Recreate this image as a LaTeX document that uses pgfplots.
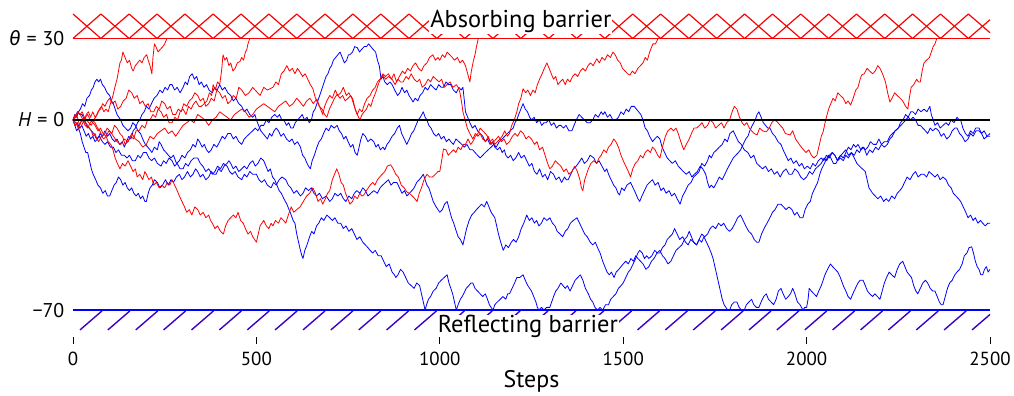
\documentclass[border=0pt]{standalone}
\usepackage{pgfplots}
\pgfplotsset{compat=1.18}
\usepackage{fontspec}
\setmainfont{PT Sans}
\newfontfamily\grfont{Fira Sans}
\definecolor{hatchblue}{RGB}{60,0,200}
\newcommand{\eqs}{\hspace{0.3em}=\hspace{0.3em}}
\begin{document}
\begin{tikzpicture}
\begin{axis}[
  scale only axis, width=917bp, height=323bp,
  xmin=0, xmax=2500, ymin=-79.9, ymax=39,
  clip=false, axis on top,
  axis x line*=bottom, axis y line*=left,
  axis line style={draw=none},
  xtick={0,500,1000,1500,2000,2500},
  ytick={-70,0,30},
  yticklabels={{−70},{\textit{H}\eqs 0},{{\grfont\itshape θ}\eqs 30}},
  x tick style={black, line width=0.9pt},
  y tick style={draw=none},
  tick align=outside,
  major tick length=6.5bp,
  /pgf/number format/1000 sep={},
  /pgf/number format/assume math mode=true,
  ticklabel style={font=\fontsize{19}{22}\selectfont},
  yticklabel style={anchor=east, inner sep=0pt, xshift=-2bp, font=\fontsize{20}{22}\selectfont},
  xticklabel style={inner sep=0pt, yshift=-8bp},
  xlabel={Steps},
  xlabel style={font=\fontsize{24}{26}\selectfont, inner sep=0pt, yshift=-5bp},
  no markers,
  every axis plot/.append style={line join=round},
]
% absorbing barrier hatch
\addplot[red, line width=1.2pt] coordinates {(0,30)(76,39)(153,30)(229,39)(305,30)(382,39)(458,30)(534,39)(610,30)(687,39)(763,30)(839,39)(916,30)(992,39)(1068,30)(1145,39)(1221,30)(1297,39)(1373,30)(1450,39)(1526,30)(1602,39)(1679,30)(1755,39)(1831,30)(1907,39)(1984,30)(2060,39)(2136,30)(2213,39)(2289,30)(2365,39)(2441,30)(2500,36.9)};
\addplot[red, line width=1.2pt] coordinates {(0,39)(76,30)(153,39)(229,30)(305,39)(382,30)(458,39)(534,30)(610,39)(687,30)(763,39)(839,30)(916,39)(992,30)(1068,39)(1145,30)(1221,39)(1297,30)(1373,39)(1450,30)(1526,39)(1602,30)(1679,39)(1755,30)(1831,39)(1907,30)(1984,39)(2060,30)(2136,39)(2213,30)(2289,39)(2365,30)(2441,39)(2500,32.1)};
% reflecting barrier hatch
\addplot[hatchblue, line width=1.4pt, unbounded coords=jump] coordinates {
(19,-77.3)(79,-70.3)(nan,nan)(95,-77.3)(155,-70.3)(nan,nan)(171,-77.3)(231,-70.3)(nan,nan)(247,-77.3)(307,-70.3)(nan,nan)
(323,-77.3)(383,-70.3)(nan,nan)(399,-77.3)(459,-70.3)(nan,nan)(475,-77.3)(535,-70.3)(nan,nan)(551,-77.3)(611,-70.3)(nan,nan)
(627,-77.3)(687,-70.3)(nan,nan)(703,-77.3)(763,-70.3)(nan,nan)(779,-77.3)(839,-70.3)(nan,nan)(855,-77.3)(915,-70.3)(nan,nan)
(931,-77.3)(991,-70.3)(nan,nan)(1007,-77.3)(1067,-70.3)(nan,nan)(1083,-77.3)(1143,-70.3)(nan,nan)(1159,-77.3)(1219,-70.3)(nan,nan)
(1235,-77.3)(1295,-70.3)(nan,nan)(1311,-77.3)(1371,-70.3)(nan,nan)(1387,-77.3)(1447,-70.3)(nan,nan)(1463,-77.3)(1523,-70.3)(nan,nan)
(1539,-77.3)(1599,-70.3)(nan,nan)(1615,-77.3)(1675,-70.3)(nan,nan)(1691,-77.3)(1751,-70.3)(nan,nan)(1767,-77.3)(1827,-70.3)(nan,nan)
(1843,-77.3)(1903,-70.3)(nan,nan)(1919,-77.3)(1979,-70.3)(nan,nan)(1995,-77.3)(2055,-70.3)(nan,nan)(2071,-77.3)(2131,-70.3)(nan,nan)
(2147,-77.3)(2207,-70.3)(nan,nan)(2223,-77.3)(2283,-70.3)(nan,nan)(2299,-77.3)(2359,-70.3)(nan,nan)(2375,-77.3)(2435,-70.3)(nan,nan)
(2451,-77.3)(2500,-71.6)};
% barrier lines
\addplot[red, line width=1.3pt] coordinates {(0,30)(2500,30)};
\addplot[blue, line width=1.8pt] coordinates {(0,-70)(2500,-70)};
% ---- blue walks ----
% B1
\addplot[blue, line width=0.8pt] coordinates {
(0,0)(5,2)(10,1)(15,3)(20,4)(26,6)(32,5)(38,8)(45,9)(50,11)(55,12)(60,14)(65,15)(70,14)(75,15)(80,13)(86,12)(93,10)(100,9)(105,7)(110,6)(115,4)(120,2)(125,1)(130,0)(136,-2)(143,-3)(150,-4)(157,-3)(163,-1)(170,-2)(177,-4)(184,-5)(190,-7)(197,-9)(204,-10)(210,-11)(215,-12)(222,-10)(230,-11)(235,-8)(240,-9)(247,-11)(254,-12)(260,-13)(267,-14)(274,-13)(282,-16)(290,-15)(297,-13)(305,-14)(312,-12)(320,-11)(327,-9)(334,-10)(340,-7)(345,-8)(352,-10)(358,-9)(364,-11)(370,-12)(377,-11)(384,-9)(392,-10)(400,-8)(407,-6)(414,-7)(422,-5)(430,-5)(437,-7)(444,-6)(452,-8)(460,-9)(467,-7)(474,-6)(482,-5)(490,-4)(497,-3)(504,-4)(512,-2)(520,-2)(527,0)(534,-1)(542,1)(550,2)(557,1)(563,2)(569,0)(575,0)(582,-2)(588,-1)(594,-3)(600,-3)(606,-1)(612,0)(619,1)(625,2)(631,0)(638,1)(644,-1)(650,0)(655,3)(660,4)(665,6)(670,8)(675,10)(680,12)(685,14)(690,16)(695,17)(700,19)(705,20)(710,22)(716,23)(722,24)(728,25)(734,23)(740,21)(746,22)(751,24)(755,24)(762,25)(768,27)(775,26.6)(781,25)(787,26)(794,27)(800,27)(806,28)(812,27)(818,26)(825,25)(830,22)(835,20)(840,15)(845,16)(850,14)(857,13)(864,14)(870,13)(877,11)(885,9)(891,10)(897,12)(904,10)(910,11)(916,9)(921,8)(927,6.6)(933,8)(940,7)(946,9)(953,10)(960,12)(967,11)(975,13)(982,12)(990,11)(997,13)(1004,12)(1010,12)(1017,14)(1024,13)(1030,13)(1037,11)(1045,10)(1052,12)(1058,11)(1063,12)(1067,7)(1070,3)(1076,1)(1082,-1)(1089,-3)(1096,-2)(1103,-4)(1110,-5)(1117,-6)(1124,-8)(1130,-7)(1137,-9)(1144,-8)(1150,-10)(1157,-11)(1164,-10)(1170,-12)(1176,-11)(1180,-13)(1186,-14)(1193,-13)(1200,-15)(1207,-14)(1215,-12)(1222,-14)(1230,-13)(1237,-15)(1244,-17)(1251,-16)(1258,-19)(1265,-20)(1272,-18)(1280,-21)(1287,-20)(1294,-22)(1302,-19)(1310,-20)(1317,-22)(1325,-21)(1332,-23)(1340,-21)(1345,-22)(1350,-22)(1357,-20)(1364,-18)(1372,-17)(1380,-15.5)(1387,-14)(1394,-16)(1402,-15)(1410,-13)(1420,-14)(1427,-16)(1434,-15)(1442,-17)(1450,-19)(1455,-18)(1460,-20)(1467,-22)(1474,-24)(1480,-25)(1486,-27)(1490,-27.6)(1496,-25)(1503,-26)(1510,-24)(1520,-23)(1527,-25)(1534,-27)(1540,-29)(1545,-30)(1551,-28)(1558,-26)(1565,-24)(1572,-23)(1580,-22)(1587,-24)(1595,-23)(1603,-26)(1610,-25)(1617,-27)(1625,-26)(1632,-28)(1640,-27)(1647,-29)(1655,-31)(1662,-28)(1670,-26)(1677,-24)(1685,-23)(1692,-21)(1700,-20)(1707,-19)(1714,-16)(1722,-17)(1730,-15)(1735,-13)(1740,-14)(1747,-12)(1755,-11)(1762,-10)(1770,-9)(1777,-7)(1784,-8)(1791,-5)(1800,-4)(1807,-6)(1814,-8)(1822,-9)(1830,-11)(1840,-12)(1848,-14)(1856,-13)(1864,-16)(1872,-17)(1880,-18)(1888,-17)(1896,-19)(1904,-18)(1912,-20)(1920,-19)(1928,-21)(1936,-19)(1944,-18)(1952,-20)(1960,-20)(1968,-18)(1976,-19)(1984,-21)(1992,-22)(2000,-21)(2008,-19)(2016,-20)(2024,-18)(2032,-17)(2040,-16)(2048,-14)(2055,-15)(2062,-13)(2070,-12)(2077,-13)(2085,-15)(2092,-13)(2100,-14)(2107,-12)(2114,-10)(2121,-11)(2128,-9)(2134,-10)(2140,-9)(2148,-11)(2156,-10)(2164,-13)(2172,-11)(2180,-12)(2188,-10)(2196,-11)(2204,-9)(2212,-10)(2220,-9)(2227,-7)(2234,-6)(2241,-4)(2250,-3)(2256,-1)(2263,0)(2270,2)(2277,1)(2284,3)(2290,3)(2297,2)(2304,4)(2312,3)(2320,4)(2328,3)(2336,5)(2340,2)(2345,0)(2350,-2)(2357,-1)(2364,-3)(2372,-2)(2380,-1)(2387,-2)(2394,0)(2402,-1)(2410,1)(2416,0)(2420,0)(2426,-3)(2433,-5)(2440,-6)(2447,-4)(2454,-5)(2461,-3)(2470,-3)(2477,-5)(2484,-4)(2492,-6)(2500,-5)};
% Bz
\addplot[blue, line width=0.8pt] coordinates {
(0,0)(6,-2)(12,-1)(18,-3)(24,-2)(30,-4)(36,-6)(42,-5)(48,-7)(54,-6)(60,-8)(67,-7)(74,-5)(80,-6)(87,-4)(94,-6)(100,-5)(107,-7)(114,-8)(120,-7)(127,-9)(134,-8)(140,-10)(146,-8)(152,-6)(158,-7)(164,-4)(170,-3)(176,-1)(182,0)(188,2)(194,3)(200,5)(207,4)(214,6)(221,8)(229,9)(237,11)(244,10)(251,12)(258,11)(264,13)(270,13)(277,11)(284,12)(292,10)(300,12)(306,14)(312,13)(318,16)(325,17)(331,15)(337,16)(344,13)(350,14)(357,12)(364,13)(371,11)(380,10)(386,12)(393,11)(400,13)(407,11)(414,12)(422,10)(430,9)(437,7)(444,8)(452,6)(460,5)(467,3)(474,4)(482,2)(490,1)(496,2)(500,0)(506,-2)(512,-4)(518,-5)(524,-6)(530,-7)(536,-5)(542,-6)(548,-4)(554,-3)(560,-4)(567,-6)(574,-5)(582,-7)(590,-8)(597,-7)(604,-9)(612,-8)(620,-10)(626,-13)(632,-14)(638,-16)(642,-17)(647,-18)(652,-15)(658,-13)(665,-10)(671,-8)(677,-7)(683,-5)(690,-3)(697,-4)(704,-2)(712,-3)(720,-2)(726,-4)(732,-5)(738,-7)(744,-6)(750,-8)(757,-10)(763,-9)(769,-12)(775,-13)(780,-10)(785,-7)(790,-5)(797,-6)(804,-8)(812,-7)(820,-8)(826,-10)(832,-9)(838,-11)(845,-10)(850,-11)(856,-9)(862,-8)(870,-6)(877,-5)(884,-3)(890,-2)(896,-5)(903,-7)(910,-9)(917,-7)(923,-5)(929,-4)(935,-2)(941,0)(947,1)(951,2)(955,3)(960,1)(965,0)(970,-2)(976,-3)(983,-5)(990,-6)(997,-5)(1004,-7)(1011,-6)(1018,-8)(1025,-7)(1030,-8)(1037,-9)(1044,-7)(1052,-8)(1060,-9)(1067,-10)(1074,-9)(1082,-11)(1090,-11)(1096,-12)(1103,-13)(1110,-14)(1117,-13)(1124,-12)(1132,-11)(1140,-10)(1147,-9)(1154,-10)(1162,-8)(1170,-7)(1177,-6)(1184,-5)(1192,-4)(1200,-3)(1205,-1)(1210,0)(1215,2)(1221,4)(1227,6)(1233,4)(1239,3)(1245,1)(1250,0)(1257,1)(1264,-1)(1271,0)(1278,-2)(1284,-1)(1290,-1)(1297,0)(1304,-2)(1311,-1)(1318,-3)(1325,-2)(1330,-2)(1337,-3)(1344,-2)(1352,-4)(1360,-4)(1366,-2)(1372,0)(1380,2)(1387,1)(1394,0)(1402,-1)(1410,-1)(1417,0)(1424,2)(1432,1)(1440,3)(1445,2)(1450,3)(1457,1)(1464,2)(1472,0)(1480,0)(1487,1)(1494,3)(1501,2)(1508,4)(1515,3)(1522,5)(1530,5)(1536,4)(1542,3)(1548,2)(1554,0)(1560,-3)(1566,-4)(1572,-6)(1580,-8)(1586,-7)(1593,-6)(1600,-7)(1606,-10)(1613,-12)(1620,-14)(1627,-15)(1634,-16)(1642,-15)(1650,-17)(1657,-18)(1664,-19)(1672,-20)(1680,-19)(1687,-21)(1694,-20)(1702,-19)(1710,-17)(1717,-18)(1725,-20)(1730,-23)(1735,-25)(1740,-24)(1747,-25)(1755,-23)(1762,-21)(1770,-22)(1777,-20)(1784,-18)(1792,-16)(1800,-14)(1807,-13)(1814,-12)(1820,-11)(1827,-9)(1834,-7)(1840,-6)(1845,-4)(1852,-2)(1860,0)(1865,2)(1870,3)(1876,1)(1882,-1)(1888,-2)(1894,-3)(1900,-3)(1907,-5)(1914,-6)(1922,-8)(1930,-9)(1936,-11)(1943,-13)(1950,-15)(1957,-14)(1964,-16)(1972,-15)(1980,-17)(1987,-16)(1994,-18)(2002,-17)(2010,-18)(2017,-16)(2024,-17)(2032,-15)(2040,-14)(2047,-15)(2054,-13)(2062,-14)(2070,-12)(2077,-13)(2084,-15)(2092,-14)(2100,-15)(2107,-13)(2114,-14)(2122,-12)(2130,-14)(2137,-16)(2144,-17)(2152,-18)(2160,-19)(2165,-22)(2170,-25)(2175,-26)(2180,-27)(2187,-28)(2194,-29)(2202,-28)(2210,-30)(2217,-29)(2224,-30)(2232,-28)(2240,-29)(2247,-27)(2254,-26)(2260,-25)(2267,-23)(2274,-21)(2282,-22)(2290,-20)(2297,-19)(2304,-21)(2312,-20)(2320,-20)(2327,-21)(2334,-19)(2342,-20)(2350,-21)(2357,-20)(2364,-22)(2372,-21)(2380,-22)(2387,-24)(2394,-25)(2400,-27)(2407,-28)(2414,-29)(2420,-30)(2427,-32)(2434,-34)(2440,-36)(2447,-35)(2454,-37)(2460,-36)(2467,-38)(2474,-37)(2480,-38)(2487,-39)(2494,-38)(2500,-38)};
% Bb1 (reflected, then rising)
\addplot[blue, line width=0.8pt] coordinates {
(0,0)(5,-2)(10,-4)(15,-3)(20,-5)(25,-8)(30,-10)(35,-12)(40,-12)(45,-15)(50,-18)(55,-20)(62,-22)(68,-24)(75,-25)(81,-27)(88,-26)(94,-28)(100,-28)(106,-26)(112,-24)(118,-23)(124,-21)(130,-22)(136,-24)(142,-23)(148,-25)(154,-26)(160,-25)(166,-27)(172,-28)(178,-27)(184,-29)(190,-28)(196,-30)(200,-30)(205,-27)(210,-25)(216,-24)(222,-22)(230,-23)(237,-25)(244,-24)(252,-22)(260,-24)(267,-22)(274,-23)(282,-21)(290,-20)(297,-22)(304,-21)(312,-19)(320,-21)(327,-20)(334,-18)(340,-19)(347,-21)(354,-20)(362,-22)(370,-21)(377,-19)(384,-20)(390,-20)(397,-18)(404,-19)(412,-17)(420,-16)(425,-15)(430,-16)(437,-18)(444,-17)(452,-19)(460,-18)(467,-17)(474,-18)(482,-16)(490,-15)(497,-17)(504,-16)(512,-14)(520,-15)(526,-17)(532,-19)(538,-18)(544,-21)(550,-22)(556,-24)(562,-26)(568,-27)(575,-29)(583,-31)(589,-33)(595,-35)(600,-37)(605,-38)(610,-42)(615,-45)(620,-48)(624,-50)(627,-51)(632,-48)(638,-46)(645,-43)(651,-41)(657,-42)(664,-39)(670,-38)(677,-36)(684,-37)(692,-35)(700,-36)(707,-37)(714,-36)(722,-38)(730,-38)(737,-40)(744,-39)(752,-41)(760,-40)(767,-42)(774,-44)(782,-43)(790,-45)(797,-46)(804,-47)(810,-48)(817,-49)(824,-48)(832,-50)(840,-50)(847,-52)(854,-54)(862,-53)(870,-56)(876,-57)(880,-58)(886,-57)(893,-55)(900,-56)(907,-58)(914,-60)(922,-61)(930,-62)(937,-60)(945,-61)(950,-64)(955,-67)(960,-70)(964,-68)(969,-66)(975,-65)(982,-63)(990,-62)(997,-60)(1004,-59)(1012,-58)(1020,-57)(1025,-60)(1030,-62)(1035,-64)(1040,-67)(1045,-70)(1050,-68)(1056,-66)(1061,-65)(1065,-64)(1072,-62)(1079,-61)(1085,-60)(1090,-60)(1096,-62)(1103,-63)(1110,-64)(1117,-65)(1124,-64)(1130,-66)(1135,-68)(1140,-69)(1145,-70)(1150,-68)(1157,-67)(1165,-66)(1172,-65)(1180,-66)(1185,-64)(1190,-64)(1197,-62)(1204,-60)(1210,-58)(1218,-58)(1227,-57)(1233,-59)(1240,-61)(1245,-62)(1250,-63)(1256,-65)(1262,-67)(1266,-69)(1270,-70)(1277,-69)(1284,-70)(1291,-69)(1300,-69)(1305,-67)(1310,-65)(1316,-63)(1322,-62)(1330,-60)(1336,-61)(1342,-62)(1348,-61)(1355,-63)(1362,-61)(1369,-59)(1376,-58)(1383,-57)(1390,-59)(1397,-62)(1405,-64)(1411,-66)(1417,-67)(1423,-69)(1430,-70)(1437,-69)(1444,-70)(1452,-68)(1460,-68)(1466,-66)(1473,-65)(1480,-64)(1487,-62)(1494,-61)(1500,-60)(1507,-58)(1514,-56)(1520,-55)(1527,-53)(1534,-51)(1540,-49)(1545,-48)(1552,-49)(1558,-51)(1564,-50)(1570,-51)(1578,-50)(1586,-48)(1593,-49)(1600,-49)(1607,-47)(1614,-46)(1620,-44)(1627,-43)(1634,-42)(1640,-40)(1647,-42)(1654,-44)(1662,-43)(1670,-45)(1677,-46)(1684,-44)(1692,-45)(1700,-46)(1707,-44)(1714,-42)(1722,-43)(1730,-42)(1737,-40)(1744,-39)(1752,-40)(1760,-38)(1767,-39)(1774,-38)(1782,-40)(1790,-41)(1797,-40)(1805,-38)(1812,-36)(1820,-35)(1827,-37)(1834,-39)(1842,-41)(1850,-42)(1857,-44)(1864,-45)(1870,-45)(1877,-42)(1884,-40)(1892,-38)(1900,-36)(1907,-34)(1914,-33)(1922,-31)(1930,-31)(1937,-32)(1944,-33)(1952,-32)(1960,-33)(1967,-35)(1974,-34)(1982,-36)(1990,-36)(1996,-33)(2003,-31)(2010,-30)(2016,-27)(2023,-25)(2030,-23)(2036,-20)(2041,-18)(2045,-17)(2052,-15)(2060,-13)(2066,-14)(2073,-16)(2080,-16)(2087,-14)(2094,-13)(2100,-12)(2107,-11)(2114,-13)(2122,-12)(2130,-13)(2137,-11)(2144,-12)(2152,-10)(2160,-11)(2167,-10)(2174,-8)(2182,-9)(2190,-9)(2197,-7)(2204,-9)(2212,-8)(2220,-8)(2227,-6)(2234,-5)(2242,-4)(2250,-3)(2257,-2)(2264,-1)(2270,0)(2277,1)(2284,0)(2290,1)(2297,0)(2304,-2)(2310,-2)(2317,-3)(2324,-4)(2330,-5)(2337,-3)(2344,-4)(2352,-3)(2360,-4)(2367,-6)(2374,-5)(2382,-7)(2390,-6)(2397,-4)(2404,-3)(2410,-3)(2417,-5)(2424,-6)(2432,-8)(2440,-7)(2447,-5)(2454,-6)(2462,-4)(2470,-4)(2477,-5)(2484,-7)(2492,-6)(2500,-6)};
% Bm (middle, then along the bottom)
\addplot[blue, line width=0.8pt] coordinates {
(0,0)(6,1)(12,3)(18,2)(25,2)(31,0)(37,-2)(44,-3)(50,-4)(57,-5)(64,-7)(72,-6)(80,-8)(87,-9)(94,-8)(102,-10)(110,-10)(117,-12)(124,-11)(132,-13)(140,-13)(147,-14)(154,-13)(162,-15)(170,-15)(177,-13)(184,-14)(192,-12)(200,-12)(207,-14)(214,-15)(222,-14)(230,-16)(240,-17)(247,-15)(254,-16)(262,-14)(270,-15)(277,-17)(284,-16)(292,-18)(300,-18)(307,-16)(314,-17)(322,-15)(330,-14)(340,-14)(347,-16)(354,-17)(362,-19)(370,-18)(380,-20)(387,-19)(394,-17)(402,-18)(410,-16)(420,-17)(427,-19)(434,-20)(442,-19)(450,-21)(460,-22)(467,-20)(474,-21)(482,-19)(490,-20)(500,-20)(507,-22)(514,-23)(522,-22)(530,-24)(540,-25)(547,-23)(554,-24)(562,-22)(570,-21)(580,-22)(587,-24)(594,-25)(602,-27)(610,-26)(620,-28)(627,-27)(634,-25)(642,-26)(650,-25)(657,-27)(664,-28)(672,-27)(680,-29)(690,-28)(700,-30)(707,-29)(714,-27)(722,-28)(730,-27)(737,-29)(744,-30)(752,-28)(760,-29)(767,-27)(774,-26)(782,-27)(790,-25)(797,-26)(804,-28)(812,-27)(820,-26)(830,-27)(837,-25)(844,-24)(852,-23)(860,-22)(867,-24)(874,-23)(883,-23)(890,-25)(897,-27)(904,-26)(910,-28)(917,-27)(924,-26)(930,-25)(937,-23)(944,-22)(950,-21)(955,-20)(960,-22)(965,-24)(970,-25)(975,-27)(982,-30)(990,-32)(1000,-34)(1007,-33)(1013,-31)(1020,-30)(1026,-33)(1032,-36)(1038,-38)(1045,-41)(1050,-43)(1056,-44)(1063,-46)(1068,-43)(1073,-40)(1080,-37)(1087,-35)(1094,-34)(1100,-33)(1107,-32)(1114,-31)(1121,-32)(1128,-30)(1134,-32)(1140,-34)(1145,-35)(1150,-36)(1155,-39)(1160,-42)(1166,-45)(1173,-48)(1180,-46)(1187,-47)(1195,-45)(1201,-44)(1208,-45)(1215,-43)(1222,-40)(1229,-38)(1237,-35)(1244,-37)(1251,-36)(1258,-38)(1264,-37)(1270,-39)(1277,-38)(1284,-36)(1292,-37)(1300,-36)(1307,-38)(1314,-39)(1320,-41)(1328,-42)(1335,-43)(1342,-41)(1349,-40)(1356,-38)(1364,-37)(1374,-36)(1381,-38)(1388,-40)(1395,-42)(1402,-43)(1410,-45)(1417,-46)(1424,-45)(1430,-47)(1437,-49)(1444,-52)(1450,-54)(1456,-56)(1462,-57)(1468,-56)(1475,-58)(1481,-56)(1488,-55)(1494,-54)(1500,-53)(1507,-52)(1514,-53)(1521,-51)(1528,-52)(1534,-50)(1540,-51)(1547,-52)(1554,-53)(1562,-55)(1570,-54)(1577,-52)(1584,-51)(1592,-49)(1600,-48)(1607,-50)(1614,-51)(1622,-53)(1630,-52)(1637,-50)(1644,-48)(1652,-47)(1660,-46)(1667,-44)(1674,-43)(1680,-41)(1686,-43)(1692,-45)(1700,-46)(1707,-44)(1714,-45)(1720,-43)(1727,-45)(1734,-47)(1740,-49)(1745,-51)(1750,-54)(1755,-57)(1760,-60)(1765,-63)(1770,-66)(1775,-68)(1780,-69)(1785,-70)(1790,-70)(1796,-68)(1803,-67)(1810,-67)(1816,-69)(1823,-70)(1830,-70)(1836,-68)(1843,-67)(1850,-66)(1856,-68)(1863,-69)(1870,-69)(1876,-67)(1883,-65)(1890,-64)(1896,-66)(1903,-67)(1910,-68)(1917,-66)(1923,-63)(1930,-62)(1936,-64)(1943,-66)(1950,-65)(1956,-64)(1962,-62)(1968,-64)(1975,-67)(1982,-68)(1990,-70)(1995,-69)(2000,-69)(2004,-66)(2007,-62)(2013,-63)(2020,-64)(2027,-65)(2033,-63)(2040,-61)(2045,-59)(2050,-57)(2057,-55)(2065,-53)(2071,-54)(2078,-55)(2085,-56)(2092,-58)(2100,-61)(2107,-63)(2113,-65)(2120,-66)(2126,-64)(2133,-62)(2140,-60)(2146,-59)(2154,-59)(2160,-61)(2166,-63)(2172,-64)(2180,-65)(2186,-64)(2193,-65)(2200,-66)(2206,-63)(2212,-60)(2218,-58)(2225,-56)(2232,-57)(2240,-58)(2247,-55)(2254,-53)(2262,-52)(2268,-54)(2274,-56)(2280,-57)(2286,-58)(2292,-61)(2298,-63)(2303,-64)(2310,-62)(2317,-60)(2324,-59)(2330,-60)(2337,-62)(2344,-63)(2350,-63)(2356,-65)(2362,-67)(2367,-68)(2372,-68)(2378,-65)(2384,-62)(2390,-60)(2397,-59)(2404,-57)(2410,-56)(2417,-55)(2424,-53)(2430,-50)(2437,-49)(2443,-47)(2450,-46.7)(2455,-49)(2460,-52)(2465,-54)(2470,-55)(2475,-57)(2480,-57)(2485,-55)(2490,-54)(2495,-56)(2500,-55)};
% ---- red walks ----
% RA
\addplot[red, line width=0.8pt] coordinates {
(0,0)(6,2)(12,1)(18,-2)(24,0)(30,-1)(36,2)(42,3)(48,1)(54,3)(60,1)(66,2)(72,4)(78,5)(84,3)(90,4)(96,3)(102,6)(109,9)(114,12)(120,15)(124,18)(128,21)(132,22)(136,25)(142,23)(148,21)(154,22)(160,19)(164,18)(170,20)(176,21)(182,22)(188,21)(194,23)(201,24)(205,22)(210,20)(215,17)(218,23)(222,28)(226,27)(232,25)(238,26)(245,27)(250,28)(256,30)};
% RB
\addplot[red, line width=0.8pt] coordinates {
(0,0)(8,-1)(14,-3)(20,-3)(27,-1)(34,1)(40,2)(47,0)(54,-1)(60,-2)(68,-4)(75,-3)(82,-5)(90,-6)(98,-4)(106,-5)(113,-2)(120,-3)(128,-5)(135,-6)(142,-9)(150,-8)(158,-6)(165,-7)(172,-4)(180,-4)(188,-2)(196,-3)(203,0)(210,0)(218,2)(225,1)(232,4)(240,3)(247,1)(255,2)(262,-1)(270,-1)(278,1)(285,0)(292,3)(300,4)(308,2)(315,5)(322,4)(327,5.5)(335,7)(343,5)(350,5)(358,6)(365,7)(372,10)(378,9)(382,13)(388,11)(394,14)(400,13)(405,18)(409,24)(414,22)(419,23)(425,20)(430,21)(436,18)(442,19)(448,21)(455,21.5)(460,23)(465,22)(470,25)(474,26)(477,28)(482,30)};
% RC
\addplot[red, line width=0.8pt] coordinates {
(0,0)(7,1)(13,3)(19,2)(25,3)(31,1)(37,0)(43,-1)(50,-2)(56,0)(62,1)(68,3)(75,4)(81,6)(87,5)(94,7)(100,8)(107,6)(115,7)(122,4)(130,5)(137,7)(145,8)(152,11)(160,10)(167,8)(175,9)(182,6)(190,7)(197,5)(205,6)(212,3)(220,3)(227,5)(235,4)(242,7)(250,6)(257,4)(265,5)(272,2)(280,2)(287,4)(295,3)(302,6)(310,5)(317,7)(325,8)(332,10)(340,9)(347,7)(355,8)(362,5)(370,6)(377,8)(385,7)(392,11)(400,10)(407,8)(415,9)(422,6)(430,7)(437,9)(445,8)(452,12)(460,11)(470,9)(480,10)(490,12)(500,10.5)(510,9)(520,12)(530,11)(545,12)(553,14)(560,13)(568,17)(575,18)(583,20)(590,18)(598,19)(605,17)(612,19)(619,17.6)(626,16)(633,17)(640,15)(647,13)(654,11.5)(661,8)(668,6)(675,4)(681,2)(686,5)(692,7)(700,9)(707,8)(715,11)(722,9)(730,10)(737,12)(745,9)(752,10)(760,8)(767,5)(775,2)(781,4)(788,3)(795,6)(802,8)(810,9)(817,11)(824,12)(830,14)(837,15)(845,17)(852,16)(860,17)(868,15)(875,17)(882,14)(890,16)(898,18)(905,17)(912,19)(920,18)(927,20)(934,21)(942,19)(950,18)(957,20)(965,21)(972,23)(981,24)(988,22)(995,23)(1000,22)(1007,24)(1014,23)(1020,25)(1027,24)(1034,23)(1040,22)(1048,23)(1055,21)(1062,22)(1070,20)(1076,17)(1082,14)(1086,18)(1092,22)(1096,24)(1100,27)(1105,30)};
% RD
\addplot[red, line width=0.8pt] coordinates {
(0,0)(5,-2)(10,-1)(15,-3)(20,-1)(25,0)(30,1)(35,-1)(40,-2)(45,-3)(50,-4)(55,-6)(60,-5)(65,-7)(70,-8)(77,-6)(84,-7)(90,-6)(96,-8)(103,-9)(109,-11)(115,-14)(121,-16)(128,-18)(135,-16)(142,-17)(150,-15)(157,-17)(164,-19)(170,-18)(175,-21)(182,-20)(190,-22)(196,-19)(200,-20)(207,-22)(214,-21)(220,-24)(227,-23)(235,-25)(242,-24)(250,-25)(257,-23)(264,-24)(270,-22)(277,-24)(284,-26)(290,-28)(297,-30)(304,-32)(310,-34)(317,-33)(324,-35)(332,-32)(340,-33)(347,-35)(355,-34)(362,-36)(370,-35)(375,-37)(380,-38)(387,-40)(394,-39)(402,-41)(410,-42)(416,-39)(423,-37)(430,-36)(437,-35)(444,-36)(450,-34)(457,-37)(464,-38)(470,-40)(477,-42)(484,-41)(490,-43)(495,-44)(500,-45)(505,-42)(510,-39)(515,-38)(520,-37)(527,-39)(534,-40)(540,-38)(545,-39)(552,-37)(560,-38)(567,-36)(574,-37)(580,-38)(587,-35)(595,-32)(602,-34)(610,-33)(619,-32)(628,-30)(637,-28)(645,-27)(654,-25)(661,-27)(668,-30)(675,-29)(681,-31)(688,-29)(694,-27)(700,-26)(707,-22)(713,-20)(719,-18)(725,-20)(731,-23)(737,-24)(743,-27)(749,-29)(755,-31)(762,-30)(768,-28)(775,-29)(782,-27)(788,-28)(793,-27.6)(800,-26)(805,-25)(810,-24)(817,-23)(823,-24)(830,-22)(836,-21)(843,-20)(850,-19)(857,-17)(866,-16.5)(873,-18)(880,-20)(887,-21)(895,-24)(903,-25)(910,-26.5)(917,-27)(925,-28)(932,-29)(938,-30)(944,-27)(950,-25)(957,-22)(965,-20)(972,-21)(980,-21)(988,-20)(995,-19)(1000,-19)(1005,-15)(1010,-10.7)(1017,-11)(1023,-13)(1030,-12)(1037,-11)(1044,-12)(1050,-10)(1057,-11)(1064,-9)(1070,-9)(1077,-7)(1084,-9)(1090,-8)(1097,-6)(1104,-5)(1110,-3)(1117,-4)(1124,-5)(1130,-6)(1137,-8)(1144,-7)(1150,-9)(1157,-8)(1164,-7)(1170,-6)(1177,-4)(1184,-6)(1190,-5)(1196,-2)(1203,0)(1210,3)(1215,6)(1221,8)(1227,11.5)(1234,10)(1240,11)(1247,9)(1254,11)(1260,10)(1266,13)(1272,15)(1279,17)(1285,19)(1292,21)(1298,19)(1304,17)(1310,15)(1316,16)(1322,13)(1328,14)(1335,15)(1342,13)(1348,15)(1355,14)(1362,16)(1369,17)(1376,16)(1383,18)(1390,19)(1397,18)(1404,20)(1411,21)(1418,20)(1428,22.5)(1435,21)(1442,23)(1450,22)(1457,24)(1465,23)(1472,25)(1478,24)(1485,22)(1492,21)(1498,19)(1505,18)(1512,17)(1518,16.5)(1525,18)(1532,17)(1540,19)(1547,20)(1554,21)(1560,23)(1566,22)(1572,25)(1578,27)(1581,28)(1588,28)(1595,30)};
% RE
\addplot[red, line width=0.8pt] coordinates {
(0,0)(7,1)(13,3)(20,2)(27,0)(33,-2)(40,-3)(47,-1)(53,0)(60,-1)(67,-3)(73,-4)(80,-6)(87,-5)(93,-3)(100,-4)(110,-6)(120,-8)(130,-9)(140,-7)(150,-8)(160,-5)(170,-7)(180,-8)(190,-10)(200,-9)(210,-6)(220,-7)(230,-5)(240,-4)(250,-3)(260,-5)(270,-4)(280,-6)(290,-4)(300,-2)(310,-1)(320,0)(330,-1)(340,2)(350,1)(360,0)(370,-2)(380,0)(390,1)(400,3)(410,2)(420,1)(430,0)(440,2)(450,3)(460,4)(470,3)(480,1)(490,2)(500,4)(510,5)(520,6)(530,5)(540,4)(550,3)(560,5)(570,6)(580,7)(590,5)(600,6)(610,8)(619,6.6)(628,5)(637,7)(646,8)(655,6)(665,7.7)(672,5)(679,4)(686,2)(692,1)(699,4)(706,6)(713,8)(720,9.4)(728,8)(735,9)(742,7)(750,8)(757,9)(763,7.7)(769,4)(775,2)(782,0)(788,2)(794,3)(800,4)(806,6)(812,5)(818,7.7)(825,10)(832,13)(838,15)(845,16.5)(852,15)(860,16)(870,15)(878,13)(886,15)(893,14)(900,14)(908,16)(915,15)(922,17)(930,15)(938,14)(945,15)(952,12)(960,13)(968,15)(975,14)(982,16)(990,15)(998,14)(1005,15)(1012,12)(1020,13)(1028,14)(1036,12)(1045,13)(1050,12)(1055,10)(1060,6)(1063,3)(1069,0)(1075,-3)(1082,-5)(1090,-7)(1097,-5)(1104,-6)(1110,-5)(1117,-7)(1125,-8)(1132,-6)(1140,-9)(1147,-8)(1154,-7)(1160,-6)(1168,-8)(1175,-7)(1182,-9)(1190,-8)(1198,-6)(1205,-5)(1212,-6)(1220,-4)(1228,-5)(1235,-7)(1242,-6)(1250,-7)(1258,-9)(1265,-8)(1272,-11)(1280,-10)(1287,-13)(1294,-16)(1300,-18)(1307,-17)(1315,-15)(1322,-16)(1330,-17)(1338,-19)(1345,-18)(1352,-20)(1360,-19)(1368,-17)(1375,-19)(1382,-22)(1386,-25)(1390,-26)(1395,-22)(1400,-20)(1405,-18)(1412,-16)(1420,-15)(1428,-16)(1434,-14)(1440,-13)(1447,-11)(1454,-12)(1460,-10)(1467,-9)(1474,-7)(1480,-8)(1487,-10)(1494,-13)(1500,-15)(1507,-17)(1514,-19)(1520,-21)(1526,-18)(1533,-16)(1540,-15)(1547,-13)(1554,-14)(1560,-12)(1567,-11)(1574,-12)(1580,-10)(1587,-11)(1594,-13)(1600,-14)(1607,-10)(1615,-6)(1622,-4)(1630,-3)(1637,-4)(1644,-3)(1650,-5)(1657,-8)(1665,-11)(1672,-9)(1680,-7)(1686,-5)(1693,-3)(1700,-3)(1708,-2)(1715,-1)(1722,-3)(1730,-2)(1737,0)(1745,-1)(1752,-3)(1760,-2)(1768,-1)(1775,-3)(1782,-1)(1790,0)(1797,3)(1803,5)(1810,4)(1817,1)(1824,-1)(1830,-2)(1837,-1)(1844,-3)(1850,-4)(1857,-5)(1865,-5.5)(1872,-3)(1880,-4)(1890,-4.4)(1898,-3)(1905,-1)(1912,0)(1920,-0.7)(1928,-2)(1935,-3)(1942,-5)(1955,-5.5)(1962,-4)(1970,-7)(1980,-9)(1990,-10.7)(1998,-12)(2006,-11)(2013,-13)(2020,-14)(2028,-13)(2035,-9)(2040,-6)(2045,-4.4)(2052,0)(2060,4)(2066,6)(2072,8)(2078,7)(2085,10)(2092,9)(2100,8)(2107,6)(2113,7)(2120,5.5)(2127,8)(2134,11)(2140,12)(2146,15)(2150,16.5)(2157,17)(2165,19)(2172,18)(2180,17)(2187,18)(2194,20)(2200,19)(2207,17)(2215,14)(2221,10)(2227,6.6)(2233,8)(2240,10)(2247,9)(2255,8)(2262,7)(2270,5)(2276,4)(2280,8)(2285,12)(2292,13)(2300,15)(2305,14)(2310,14)(2315,18)(2320,21)(2327,22)(2335,23)(2340,25)(2345,27)(2350,28)(2355,30)};
% H = 0 line
\addplot[black, line width=1.6pt] coordinates {(0,0)(2500,0)};
% barrier labels
\node[fill=white, inner xsep=1pt, inner ysep=0.5pt, font=\fontsize{24.5}{26}\selectfont] at (axis cs:1221,36.1) {Absorbing barrier};
\node[fill=white, inner xsep=1pt, inner ysep=0.5pt, font=\fontsize{24.5}{26}\selectfont] at (axis cs:1240,-76) {Reflecting barrier};
\end{axis}
\pgfresetboundingbox
\useasboundingbox ([xshift=-73bp,yshift=-59bp]current axis.south west) rectangle ([xshift=24bp,yshift=14bp]current axis.north east);
\end{tikzpicture}
\end{document}
